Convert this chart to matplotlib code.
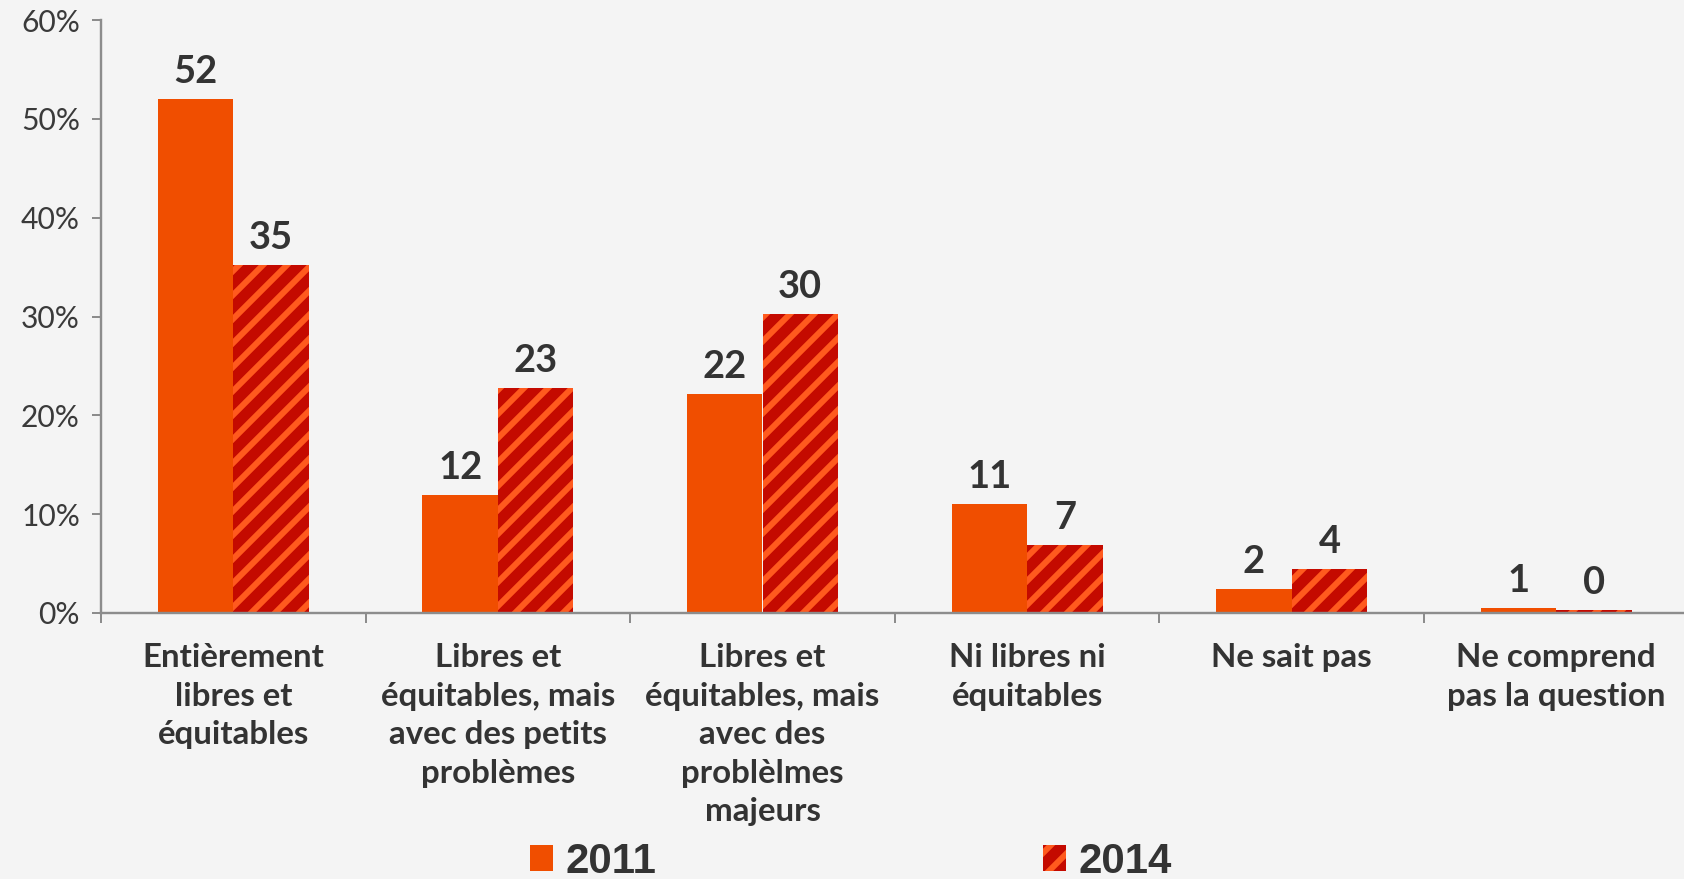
import numpy as np
import matplotlib
matplotlib.use('Agg')
import matplotlib.pyplot as plt
from matplotlib.ticker import FixedLocator, FuncFormatter

categories = [
    "Entièrement\nlibres et\néquitables",
    "Libres et\néquitables, mais\navec des petits\nproblèmes",
    "Libres et\néquitables, mais\navec des\nproblèlmes\nmajeurs",
    "Ni libres ni\néquitables",
    "Ne sait pas",
    "Ne comprend\npas la question",
]
series_names = ["2011", "2014"]
# bar heights (percent)
vals_2011 = [52.0, 11.9, 22.2, 11.0, 2.4, 0.5]
vals_2014 = [35.2, 22.8, 30.3, 6.9, 4.5, 0.3]
# printed labels above bars
labels_2011 = ["52", "12", "22", "11", "2", "1"]
labels_2014 = ["35", "23", "30", "7", "4", "0"]
yticks = [0, 10, 20, 30, 40, 50, 60]

BG = '#f4f4f4'
C2011 = '#f04e00'
C2014_FACE = '#c40a00'
C2014_HATCH = '#ff5a1e'
TXT = '#333333'
AXC = '#8c8c8c'

plt.rcParams['font.family'] = ['Lato', 'DejaVu Sans']
plt.rcParams['hatch.linewidth'] = 3.0

DPI = 144
fig = plt.figure(figsize=(1684 / DPI, 879 / DPI), dpi=DPI, facecolor=BG)
ax = fig.add_axes([101 / 1684, 1 - 613 / 879, 6 * 264.6 / 1684, (613 - 20) / 879])
ax.set_facecolor(BG)

x = np.arange(len(categories))
w = 0.285
b1 = ax.bar(x - w / 2, vals_2011, w, color=C2011, linewidth=0, label=series_names[0])
b2 = ax.bar(x + w / 2, vals_2014, w, color=C2014_FACE, edgecolor=C2014_HATCH,
            hatch='//', linewidth=0, label=series_names[1])

for bars, labs in [(b1, labels_2011), (b2, labels_2014)]:
    for r, lab in zip(bars, labs):
        ax.annotate(lab, (r.get_x() + r.get_width() / 2, r.get_height()),
                    xytext=(0, 5), textcoords='offset points', ha='center', va='bottom',
                    fontsize=19, fontweight='bold', color=TXT)

ax.set_xlim(-0.5, len(categories) - 0.5)
ax.set_ylim(0, 60)
ax.yaxis.set_major_locator(FixedLocator(yticks))
ax.yaxis.set_major_formatter(FuncFormatter(lambda v, p: f"{int(v)}%"))
ax.tick_params(axis='y', length=4.5, width=1, color=AXC, labelsize=15, labelcolor='#3a3a3a', pad=6)

ax.set_xticks(x)
ax.set_xticklabels(categories, fontsize=16.5, fontweight='bold', color=TXT, linespacing=1.4, va='top')
ax.tick_params(axis='x', which='major', length=0, pad=15)
ax.xaxis.set_minor_locator(FixedLocator(np.arange(len(categories) + 1) - 0.5))
ax.tick_params(axis='x', which='minor', length=5, width=1, color=AXC)

for s in ['top', 'right']:
    ax.spines[s].set_visible(False)
for s in ['left', 'bottom']:
    ax.spines[s].set_color(AXC)
    ax.spines[s].set_linewidth(1.2)

leg = fig.legend(handles=[b1, b2], labels=series_names, loc='center left',
                 bbox_to_anchor=(530 / 1684, 1 - 862 / 879), ncol=2, frameon=False,
                 prop={'family': ['Liberation Sans Narrow', 'Liberation Sans'], 'weight': 'bold', 'size': 21},
                 handlelength=0.55, handleheight=0.55, handletextpad=0.3, columnspacing=9.2,
                 borderpad=0, borderaxespad=0)
for t in leg.get_texts():
    t.set_color(TXT)

fig.savefig('out.png', dpi=DPI, facecolor=BG)
